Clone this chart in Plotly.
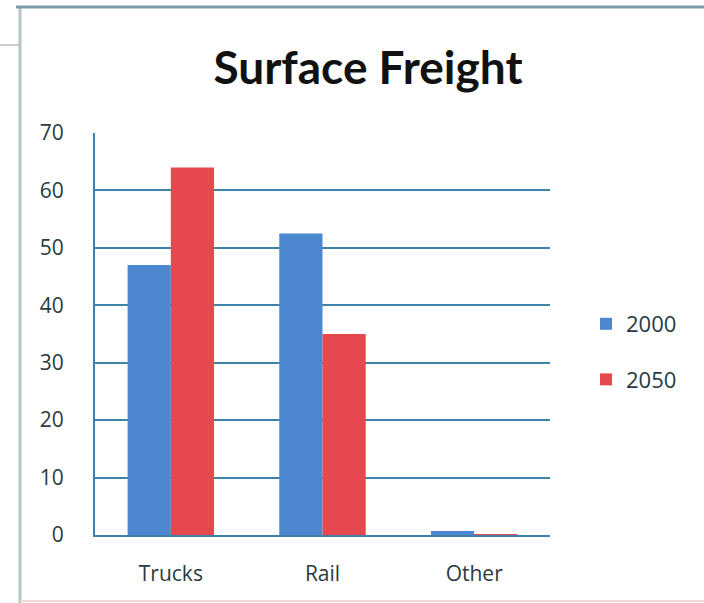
import plotly.graph_objects as go

categories = ["Trucks", "Rail", "Other"]
series_names = ["2000", "2050"]
values_2000 = [47, 52.5, 0.7]
values_2050 = [64, 35, 0.1]
y_ticks = [0, 10, 20, 30, 40, 50, 60, 70]

W, H = 704, 603
L, R, T, B = 95, 154, 133, 68
pw, ph = W - L - R, H - T - B

def px(x):
    return (x - L) / pw

def py(y):
    return (H - B - y) / ph

fig = go.Figure()
fig.add_trace(go.Bar(x=categories, y=values_2000, name=series_names[0],
                     marker=dict(color="#4d87d0", line=dict(width=0)),
                     legendgroup="a"))
fig.add_trace(go.Bar(x=categories, y=values_2050, name=series_names[1],
                     marker=dict(color="#e5494f", line=dict(width=0)),
                     legendgroup="b"))

grid = "#3f82a8"
fig.update_layout(
    width=W, height=H,
    margin=dict(l=L, r=R, t=T, b=B),
    paper_bgcolor="white", plot_bgcolor="white",
    barmode="group", bargap=0.43, bargroupgap=0,
    title=dict(text="<b>Surface Freight</b>", x=368 / W, xanchor="center",
               y=1 - 68 / H, yanchor="middle", yref="container",
               font=dict(family="Lato, Open Sans, sans-serif", size=46, color="#111")),
    font=dict(family="Open Sans, sans-serif", color="#333"),
    xaxis=dict(showgrid=False, showline=True, linecolor=grid, linewidth=2,
               tickfont=dict(size=21, color="#2a3a40"), ticklabelstandoff=19,
               zeroline=False, automargin=False),
    yaxis=dict(range=[0, 70], tickvals=y_ticks, showgrid=True, gridcolor=grid,
               gridwidth=2, showline=True, linecolor=grid, linewidth=2,
               zeroline=False, tickfont=dict(size=21, color="#2a3a40"),
               ticklabelstandoff=25, automargin=False),
    legend=dict(x=px(586), y=py(352), xanchor="left", yanchor="middle",
                font=dict(size=22, color="#1f3a45"), traceorder="grouped",
                tracegroupgap=24, itemwidth=30),
    shapes=[
        dict(type="line", xref="paper", yref="paper", x0=px(20), x1=px(20),
             y0=py(8), y1=py(603), line=dict(color="#b8c4cc", width=3)),
        dict(type="line", xref="paper", yref="paper", x0=px(16), x1=px(704),
             y0=py(7), y1=py(7), line=dict(color="#7d9aa6", width=3)),
        dict(type="line", xref="paper", yref="paper", x0=px(0), x1=px(19),
             y0=py(45), y1=py(45), line=dict(color="#9a9a9a", width=1)),
        dict(type="line", xref="paper", yref="paper", x0=px(20), x1=px(704),
             y0=py(601), y1=py(601), line=dict(color="#f0d8d0", width=2)),
    ],
)

fig.write_html("out.html",
               config={"displayModeBar": False},
               post_script="document.body.style.margin='0';document.body.style.overflow='hidden';")
